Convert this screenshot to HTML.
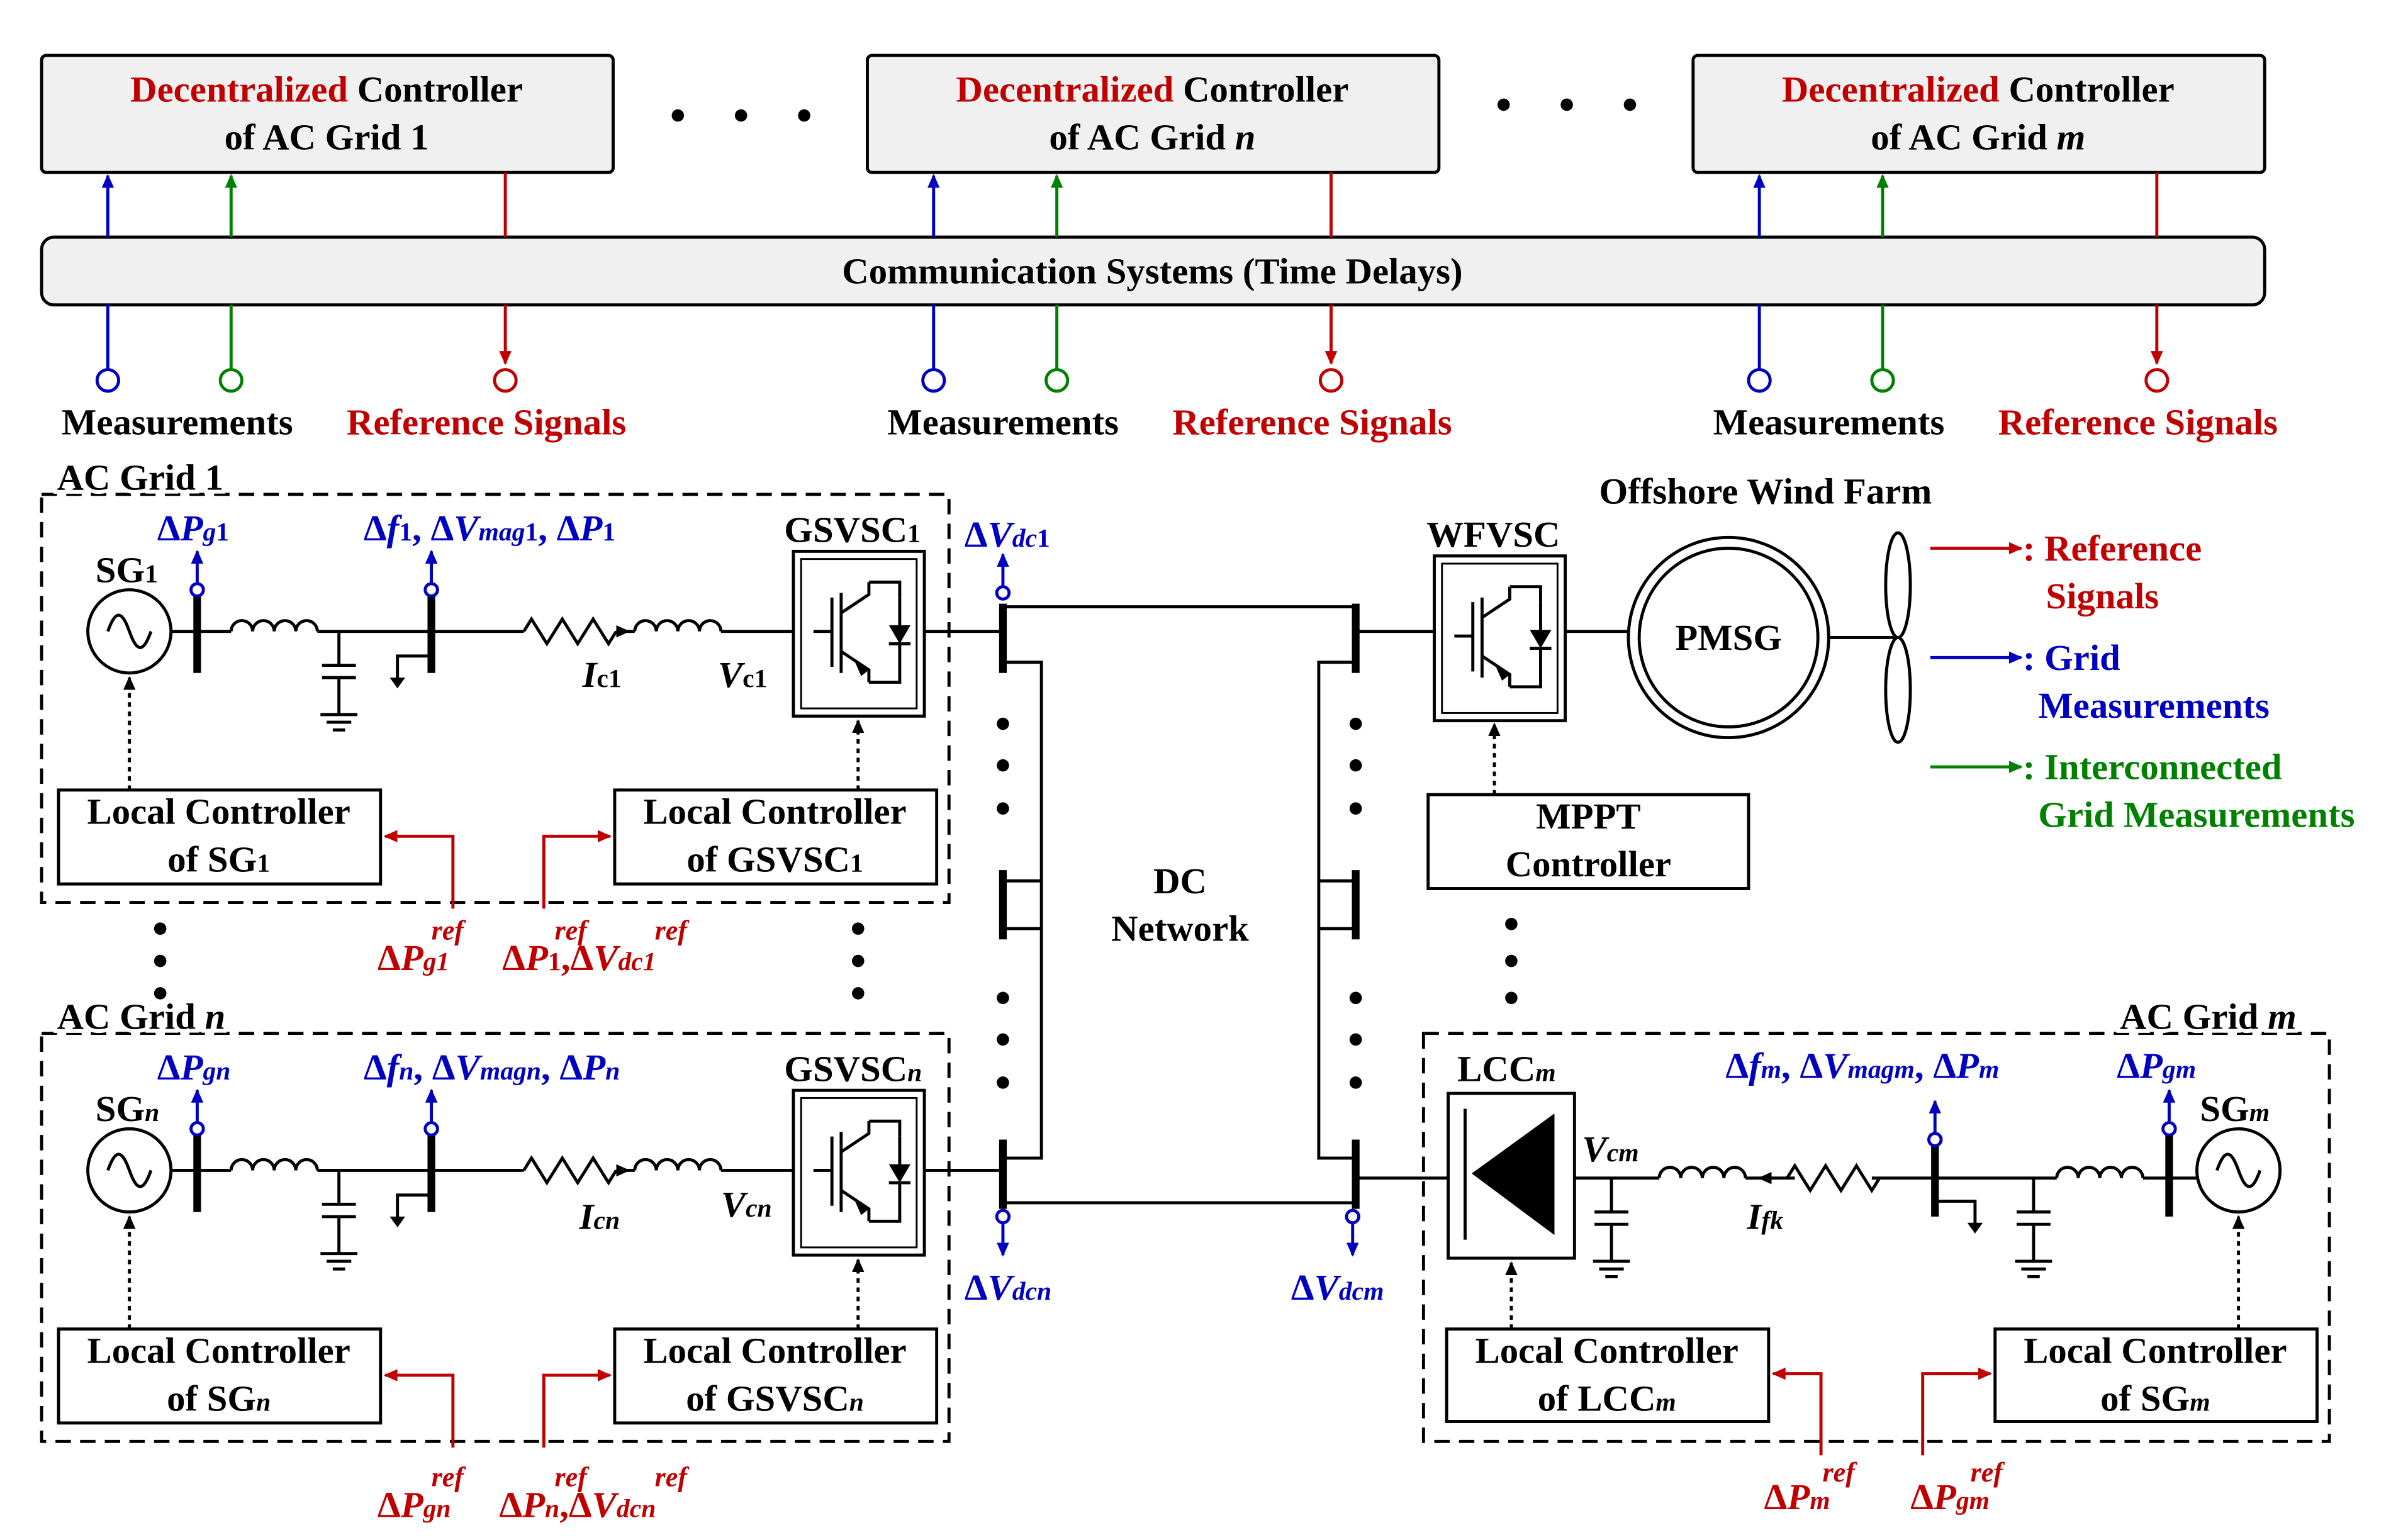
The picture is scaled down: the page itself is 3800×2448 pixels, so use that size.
<!DOCTYPE html>
<html><head><meta charset="utf-8">
<style>
html,body{margin:0;padding:0;background:#fff;}
svg{display:block;}
text{font-family:"Liberation Serif",serif;font-weight:bold;}
.t{font-size:24px;fill:#000;}
.r{fill:#c00000;}
.b{fill:#0000c0;}
.g{fill:#008000;}
.i{font-style:italic;}
.lb{paint-order:stroke;stroke:#fff;stroke-width:5px;}
</style></head><body>
<svg width="3800" height="2448" viewBox="0 0 1552 1000" preserveAspectRatio="none" xmlns="http://www.w3.org/2000/svg">
<defs>
<marker id="ab" markerWidth="10" markerHeight="10" refX="8" refY="5" orient="auto" markerUnits="userSpaceOnUse"><path d="M0,1 L9,5 L0,9 Z" fill="#0000c0"/></marker>
<marker id="ag" markerWidth="10" markerHeight="10" refX="8" refY="5" orient="auto" markerUnits="userSpaceOnUse"><path d="M0,1 L9,5 L0,9 Z" fill="#008000"/></marker>
<marker id="ar" markerWidth="10" markerHeight="10" refX="8" refY="5" orient="auto" markerUnits="userSpaceOnUse"><path d="M0,1 L9,5 L0,9 Z" fill="#c00000"/></marker>
<marker id="ak" markerWidth="10" markerHeight="10" refX="8" refY="5" orient="auto" markerUnits="userSpaceOnUse"><path d="M0,1 L9,5 L0,9 Z" fill="#000"/></marker>
<g id="ind"><path d="M0,0 a7,7 0 0 1 14,0 a7,7 0 0 1 14,0 a7,7 0 0 1 14,0 a7,7 0 0 1 14,0" fill="none" stroke="#000" stroke-width="2"/></g>
<g id="res"><path d="M0,0 l5,-8 l10,16 l10,-16 l10,16 l10,-16 l10,16 l5,-8" fill="none" stroke="#000" stroke-width="2"/></g>
<g id="cap"><path d="M0,0 v22 M-11,22 h22 M-11,30 h22 M0,30 v24 M-12,54 h24 M-8,59 h16 M-4,64 h8" fill="none" stroke="#000" stroke-width="2"/></g>
<g id="gnd"><path d="M0,0 h-22 v16" fill="none" stroke="#000" stroke-width="2"/><path d="M-27,14 h10 l-5,7 z" fill="#000"/></g>
<g id="conv"><rect x="0" y="0" width="85" height="107" fill="#fff" stroke="#000" stroke-width="2"/>
<rect x="5" y="5" width="75" height="97" fill="none" stroke="#000" stroke-width="1.2"/>
<path d="M25,30 v45 M31,27 v52 M31,40 l18,-12 v-8 M31,65 l18,12 v8 M49,20 h20 v10 M49,85 h20 v-10 M69,60 v15 M13,52 h12" fill="none" stroke="#000" stroke-width="2"/>
<path d="M62,48 h14 l-7,12 z" fill="#000"/><path d="M62,60 h14" stroke="#000" stroke-width="2"/><path d="M69,30 v18" stroke="#000" stroke-width="2"/>
<path d="M40,72 l9,5 l-5,4 z" fill="#000"/></g>
<g id="sg"><circle cx="0" cy="0" r="27" fill="#fff" stroke="#000" stroke-width="2"/><path d="M-14,0 c5,-14 9,-14 14,0 s9,14 14,0" fill="none" stroke="#000" stroke-width="2"/></g>
</defs>

<g fill="#f0f0f0" stroke="#000" stroke-width="2">
<rect x="27" y="36" width="371" height="76" rx="3"/>
<rect x="563" y="36" width="371" height="76" rx="3"/>
<rect x="1099" y="36" width="371" height="76" rx="3"/>
<rect x="27" y="154" width="1443" height="44" rx="8"/>
</g>
<text class="t" x="212" y="66" text-anchor="middle"><tspan class="r">Decentralized</tspan> Controller</text>
<text class="t" x="212" y="97" text-anchor="middle">of AC Grid 1</text>
<text class="t" x="748" y="66" text-anchor="middle"><tspan class="r">Decentralized</tspan> Controller</text>
<text class="t" x="748" y="97" text-anchor="middle">of AC Grid <tspan class="i">n</tspan></text>
<text class="t" x="1284" y="66" text-anchor="middle"><tspan class="r">Decentralized</tspan> Controller</text>
<text class="t" x="1284" y="97" text-anchor="middle">of AC Grid <tspan class="i">m</tspan></text>
<g fill="#000"><circle cx="440" cy="75" r="4"/><circle cx="481" cy="75" r="4"/><circle cx="522" cy="75" r="4"/>
<circle cx="976" cy="68" r="4"/><circle cx="1017" cy="68" r="4"/><circle cx="1058" cy="68" r="4"/></g>
<text class="t" x="748" y="184" text-anchor="middle">Communication Systems (Time Delays)</text>

<g id="sig">
<path d="M70,154 V114" stroke="#0000c0" stroke-width="2" marker-end="url(#ab)"/>
<path d="M150,154 V114" stroke="#008000" stroke-width="2" marker-end="url(#ag)"/>
<path d="M328,112 V154" stroke="#c00000" stroke-width="2"/>
<path d="M70,198 V240" stroke="#0000c0" stroke-width="2"/><circle cx="70" cy="247" r="7" fill="#fff" stroke="#0000c0" stroke-width="2"/>
<path d="M150,198 V240" stroke="#008000" stroke-width="2"/><circle cx="150" cy="247" r="7" fill="#fff" stroke="#008000" stroke-width="2"/>
<path d="M328,198 V236" stroke="#c00000" stroke-width="2" marker-end="url(#ar)"/><circle cx="328" cy="247" r="7" fill="#fff" stroke="#c00000" stroke-width="2"/>
<text class="t" x="40" y="282">Measurements</text>
<text class="t r" x="225" y="282">Reference Signals</text>
</g>
<use href="#sig" x="536"/>
<use href="#sig" x="1072"/>

<g id="gridA">
<rect x="27" y="321" width="589" height="265" fill="none" stroke="#000" stroke-width="2" stroke-dasharray="10,6"/>
<use href="#sg" x="84" y="410"/>
<path d="M111,410 H150 M206,410 H280 M280,410 H340 M400,410 H412 M468,410 H515 M600,410 H651" stroke="#000" stroke-width="2"/>
<path d="M128,380 V437 M280,380 V437" stroke="#000" stroke-width="5"/>
<use href="#ind" x="150" y="410"/>
<use href="#cap" x="220" y="410"/>
<use href="#gnd" x="280" y="426"/>
<use href="#res" x="340" y="410"/>
<path d="M400,410 h8" stroke="#000" stroke-width="2" marker-end="url(#ak)"/>
<use href="#ind" x="412" y="410"/>
<use href="#conv" x="515" y="358"/>
<path d="M128,383 V358" stroke="#0000c0" stroke-width="2" marker-end="url(#ab)"/><circle cx="128" cy="383" r="4" fill="#fff" stroke="#0000c0" stroke-width="2"/>
<path d="M280,383 V358" stroke="#0000c0" stroke-width="2" marker-end="url(#ab)"/><circle cx="280" cy="383" r="4" fill="#fff" stroke="#0000c0" stroke-width="2"/>
<rect x="38" y="513" width="209" height="61" fill="#fff" stroke="#000" stroke-width="2"/>
<rect x="399" y="513" width="209" height="61" fill="#fff" stroke="#000" stroke-width="2"/>
<path d="M84,513 V440" stroke="#000" stroke-width="2" stroke-dasharray="3,3" marker-end="url(#ak)"/>
<path d="M557,513 V468" stroke="#000" stroke-width="2" stroke-dasharray="3,3" marker-end="url(#ak)"/>
<path d="M294,590 V543 H250" fill="none" stroke="#c00000" stroke-width="2" marker-end="url(#ar)"/>
<path d="M353,590 V543 H396" fill="none" stroke="#c00000" stroke-width="2" marker-end="url(#ar)"/>
</g>
<use href="#gridA" y="350"/>

<text class="t lb" x="37" y="318">AC Grid 1</text>
<text class="t b" x="102" y="351">Δ<tspan class="i">P<tspan font-size="17">g</tspan></tspan><tspan font-size="17">1</tspan></text>
<text class="t b" x="236" y="351">Δ<tspan class="i">f</tspan><tspan font-size="17">1</tspan>, Δ<tspan class="i">V<tspan font-size="17">mag</tspan></tspan><tspan font-size="17">1</tspan>, Δ<tspan class="i">P</tspan><tspan font-size="17">1</tspan></text>
<text class="t" x="62" y="378">SG<tspan font-size="17">1</tspan></text>
<text class="t" x="509" y="352">GSVSC<tspan font-size="17">1</tspan></text>
<text class="t i" x="378" y="446">I<tspan font-size="17" font-style="normal">c1</tspan></text>
<text class="t i" x="466" y="446">V<tspan font-size="17" font-style="normal">c1</tspan></text>
<text class="t" x="142" y="535" text-anchor="middle">Local Controller</text>
<text class="t" x="142" y="566" text-anchor="middle">of SG<tspan font-size="17">1</tspan></text>
<text class="t" x="503" y="535" text-anchor="middle">Local Controller</text>
<text class="t" x="503" y="566" text-anchor="middle">of GSVSC<tspan font-size="17">1</tspan></text>
<text class="t r" x="245" y="630">Δ<tspan class="i">P<tspan font-size="17">g1</tspan></tspan></text>
<text class="r i" x="280" y="610" font-size="18">ref</text>
<text class="t r" x="326" y="630">Δ<tspan class="i">P</tspan><tspan font-size="17">1</tspan>,Δ<tspan class="i">V<tspan font-size="17">dc1</tspan></tspan></text>
<text class="r i" x="360" y="610" font-size="18">ref</text><text class="r i" x="425" y="610" font-size="18">ref</text>
<g fill="#000"><circle cx="104" cy="603" r="4"/><circle cx="104" cy="624" r="4"/><circle cx="104" cy="645" r="4"/>
<circle cx="557" cy="603" r="4"/><circle cx="557" cy="624" r="4"/><circle cx="557" cy="645" r="4"/></g>

<text class="t lb" x="37" y="668">AC Grid <tspan class="i">n</tspan></text>
<text class="t b" x="102" y="701">Δ<tspan class="i">P<tspan font-size="17">gn</tspan></tspan></text>
<text class="t b" x="236" y="701">Δ<tspan class="i">f<tspan font-size="17">n</tspan></tspan>, Δ<tspan class="i">V<tspan font-size="17">magn</tspan></tspan>, Δ<tspan class="i">P<tspan font-size="17">n</tspan></tspan></text>
<text class="t" x="62" y="728">SG<tspan font-size="17" class="i">n</tspan></text>
<text class="t" x="509" y="702">GSVSC<tspan font-size="17" class="i">n</tspan></text>
<text class="t i" x="376" y="798">I<tspan font-size="17">cn</tspan></text>
<text class="t i" x="468" y="790">V<tspan font-size="17">cn</tspan></text>
<text class="t" x="142" y="885" text-anchor="middle">Local Controller</text>
<text class="t" x="142" y="916" text-anchor="middle">of SG<tspan font-size="17" class="i">n</tspan></text>
<text class="t" x="503" y="885" text-anchor="middle">Local Controller</text>
<text class="t" x="503" y="916" text-anchor="middle">of GSVSC<tspan font-size="17" class="i">n</tspan></text>
<text class="t r" x="245" y="985">Δ<tspan class="i">P<tspan font-size="17">gn</tspan></tspan></text>
<text class="r i" x="280" y="965" font-size="18">ref</text>
<text class="t r" x="324" y="985">Δ<tspan class="i">P<tspan font-size="17">n</tspan></tspan>,Δ<tspan class="i">V<tspan font-size="17">dcn</tspan></tspan></text>
<text class="r i" x="360" y="965" font-size="18">ref</text><text class="r i" x="425" y="965" font-size="18">ref</text>

<path d="M651,394 H878 M651,781 H878" stroke="#000" stroke-width="2"/>
<path d="M651,392 V437 M651,565 V610 M651,740 V785 M880,392 V437 M880,565 V610 M880,740 V785" stroke="#000" stroke-width="5"/>
<path d="M653,430 H676 V752 H653 M653,572 H676 M653,603 H676" fill="none" stroke="#000" stroke-width="2"/>
<path d="M878,430 H856 V752 H878 M878,572 H856 M878,603 H856" fill="none" stroke="#000" stroke-width="2"/>
<g fill="#000"><circle cx="651" cy="470" r="4"/><circle cx="651" cy="497" r="4"/><circle cx="651" cy="525" r="4"/>
<circle cx="651" cy="648" r="4"/><circle cx="651" cy="675" r="4"/><circle cx="651" cy="703" r="4"/>
<circle cx="880" cy="470" r="4"/><circle cx="880" cy="497" r="4"/><circle cx="880" cy="525" r="4"/>
<circle cx="880" cy="648" r="4"/><circle cx="880" cy="675" r="4"/><circle cx="880" cy="703" r="4"/>
<circle cx="981" cy="600" r="4"/><circle cx="981" cy="624" r="4"/><circle cx="981" cy="648" r="4"/></g>
<text class="t" x="766" y="580" text-anchor="middle">DC</text>
<text class="t" x="766" y="611" text-anchor="middle">Network</text>
<path d="M651,385 V360" stroke="#0000c0" stroke-width="2" marker-end="url(#ab)"/><circle cx="651" cy="385" r="4" fill="#fff" stroke="#0000c0" stroke-width="2"/>
<text class="t b" x="626" y="355">Δ<tspan class="i">V<tspan font-size="17">dc</tspan></tspan><tspan font-size="17">1</tspan></text>
<path d="M651,790 V815" stroke="#0000c0" stroke-width="2" marker-end="url(#ab)"/><circle cx="651" cy="790" r="4" fill="#fff" stroke="#0000c0" stroke-width="2"/>
<text class="t b" x="626" y="844">Δ<tspan class="i">V<tspan font-size="17">dcn</tspan></tspan></text>
<path d="M878,790 V815" stroke="#0000c0" stroke-width="2" marker-end="url(#ab)"/><circle cx="878" cy="790" r="4" fill="#fff" stroke="#0000c0" stroke-width="2"/>
<text class="t b" x="838" y="844">Δ<tspan class="i">V<tspan font-size="17">dcm</tspan></tspan></text>

<text class="t" x="1146" y="327" text-anchor="middle">Offshore Wind Farm</text>
<text class="t" x="926" y="355">WFVSC</text>
<path d="M880,410 H931 M1015,410 H1057 M1187,414 H1232" stroke="#000" stroke-width="2"/>
<use href="#conv" x="931" y="361"/>
<circle cx="1122" cy="414" r="65" fill="#fff" stroke="#000" stroke-width="2"/>
<circle cx="1122" cy="414" r="58" fill="#fff" stroke="#000" stroke-width="2"/>
<text class="t" x="1122" y="422" text-anchor="middle">PMSG</text>
<ellipse cx="1232" cy="380" rx="8" ry="34" fill="#fff" stroke="#000" stroke-width="2"/>
<ellipse cx="1232" cy="448" rx="8" ry="34" fill="#fff" stroke="#000" stroke-width="2"/>
<rect x="927" y="516" width="208" height="61" fill="#fff" stroke="#000" stroke-width="2"/>
<text class="t" x="1031" y="538" text-anchor="middle">MPPT</text>
<text class="t" x="1031" y="569" text-anchor="middle">Controller</text>
<path d="M970,516 V470" stroke="#000" stroke-width="2" stroke-dasharray="3,3" marker-end="url(#ak)"/>

<path d="M1253,356 H1312" stroke="#c00000" stroke-width="2" marker-end="url(#ar)"/>
<text class="t r" x="1313" y="364">: Reference</text><text class="t r" x="1328" y="395">Signals</text>
<path d="M1253,427 H1312" stroke="#0000c0" stroke-width="2" marker-end="url(#ab)"/>
<text class="t b" x="1313" y="435">: Grid</text><text class="t b" x="1323" y="466">Measurements</text>
<path d="M1253,498 H1312" stroke="#008000" stroke-width="2" marker-end="url(#ag)"/>
<text class="t g" x="1313" y="506">: Interconnected</text><text class="t g" x="1323" y="537">Grid Measurements</text>

<rect x="924" y="671" width="588" height="265" fill="none" stroke="#000" stroke-width="2" stroke-dasharray="10,6"/>
<path d="M880,765 H940 M1022,765 H1077 M1133,765 H1165 M1215,765 H1335 M1391,765 H1426" stroke="#000" stroke-width="2"/>
<rect x="940" y="710" width="82" height="107" fill="#fff" stroke="#000" stroke-width="2"/>
<path d="M1008,725 V800 M957,762 L1008,725 V800 Z" fill="#000" stroke="#000" stroke-width="2"/>
<path d="M951,720 V805" stroke="#000" stroke-width="2"/>
<use href="#cap" x="1046" y="765"/>
<use href="#ind" x="1077" y="765"/>
<path d="M1150,765 h-8" stroke="#000" stroke-width="2" marker-end="url(#ak)"/>
<use href="#res" x="1160" y="765"/>
<path d="M1256,740 V790 M1408,730 V790" stroke="#000" stroke-width="5"/>
<path d="M1258,780 H1282 V796" fill="none" stroke="#000" stroke-width="2"/><path d="M1277,794 h10 l-5,7 z" fill="#000"/>
<use href="#cap" x="1320" y="765"/>
<use href="#ind" x="1335" y="765"/>
<use href="#sg" x="1453" y="760"/>
<path d="M1256,740 V715" stroke="#0000c0" stroke-width="2" marker-end="url(#ab)"/><circle cx="1256" cy="740" r="4" fill="#fff" stroke="#0000c0" stroke-width="2"/>
<path d="M1408,733 V708" stroke="#0000c0" stroke-width="2" marker-end="url(#ab)"/><circle cx="1408" cy="733" r="4" fill="#fff" stroke="#0000c0" stroke-width="2"/>
<text class="t" x="946" y="702">LCC<tspan font-size="17" class="i">m</tspan></text>
<text class="t i" x="1027" y="754">V<tspan font-size="17">cm</tspan></text>
<text class="t i" x="1134" y="798">I<tspan font-size="17">fk</tspan></text>
<text class="t b" x="1120" y="700">Δ<tspan class="i">f<tspan font-size="17">m</tspan></tspan>, Δ<tspan class="i">V<tspan font-size="17">magm</tspan></tspan>, Δ<tspan class="i">P<tspan font-size="17">m</tspan></tspan></text>
<text class="t lb" x="1376" y="668">AC Grid <tspan class="i">m</tspan></text>
<text class="t b" x="1374" y="700">Δ<tspan class="i">P<tspan font-size="17">gm</tspan></tspan></text>
<text class="t" x="1428" y="728">SG<tspan font-size="17" class="i">m</tspan></text>
<rect x="939" y="863" width="209" height="60" fill="#fff" stroke="#000" stroke-width="2"/>
<rect x="1295" y="863" width="209" height="60" fill="#fff" stroke="#000" stroke-width="2"/>
<text class="t" x="1043" y="885" text-anchor="middle">Local Controller</text>
<text class="t" x="1043" y="916" text-anchor="middle">of LCC<tspan font-size="17" class="i">m</tspan></text>
<text class="t" x="1399" y="885" text-anchor="middle">Local Controller</text>
<text class="t" x="1399" y="916" text-anchor="middle">of SG<tspan font-size="17" class="i">m</tspan></text>
<path d="M981,863 V820" stroke="#000" stroke-width="2" stroke-dasharray="3,3" marker-end="url(#ak)"/>
<path d="M1453,863 V790" stroke="#000" stroke-width="2" stroke-dasharray="3,3" marker-end="url(#ak)"/>
<path d="M1182,945 V892 H1151" fill="none" stroke="#c00000" stroke-width="2" marker-end="url(#ar)"/>
<path d="M1248,945 V892 H1292" fill="none" stroke="#c00000" stroke-width="2" marker-end="url(#ar)"/>
<text class="t r" x="1145" y="980">Δ<tspan class="i">P<tspan font-size="17">m</tspan></tspan></text>
<text class="r i" x="1183" y="962" font-size="18">ref</text>
<text class="t r" x="1240" y="980">Δ<tspan class="i">P<tspan font-size="17">gm</tspan></tspan></text>
<text class="r i" x="1279" y="962" font-size="18">ref</text>
</svg>
</body></html>
